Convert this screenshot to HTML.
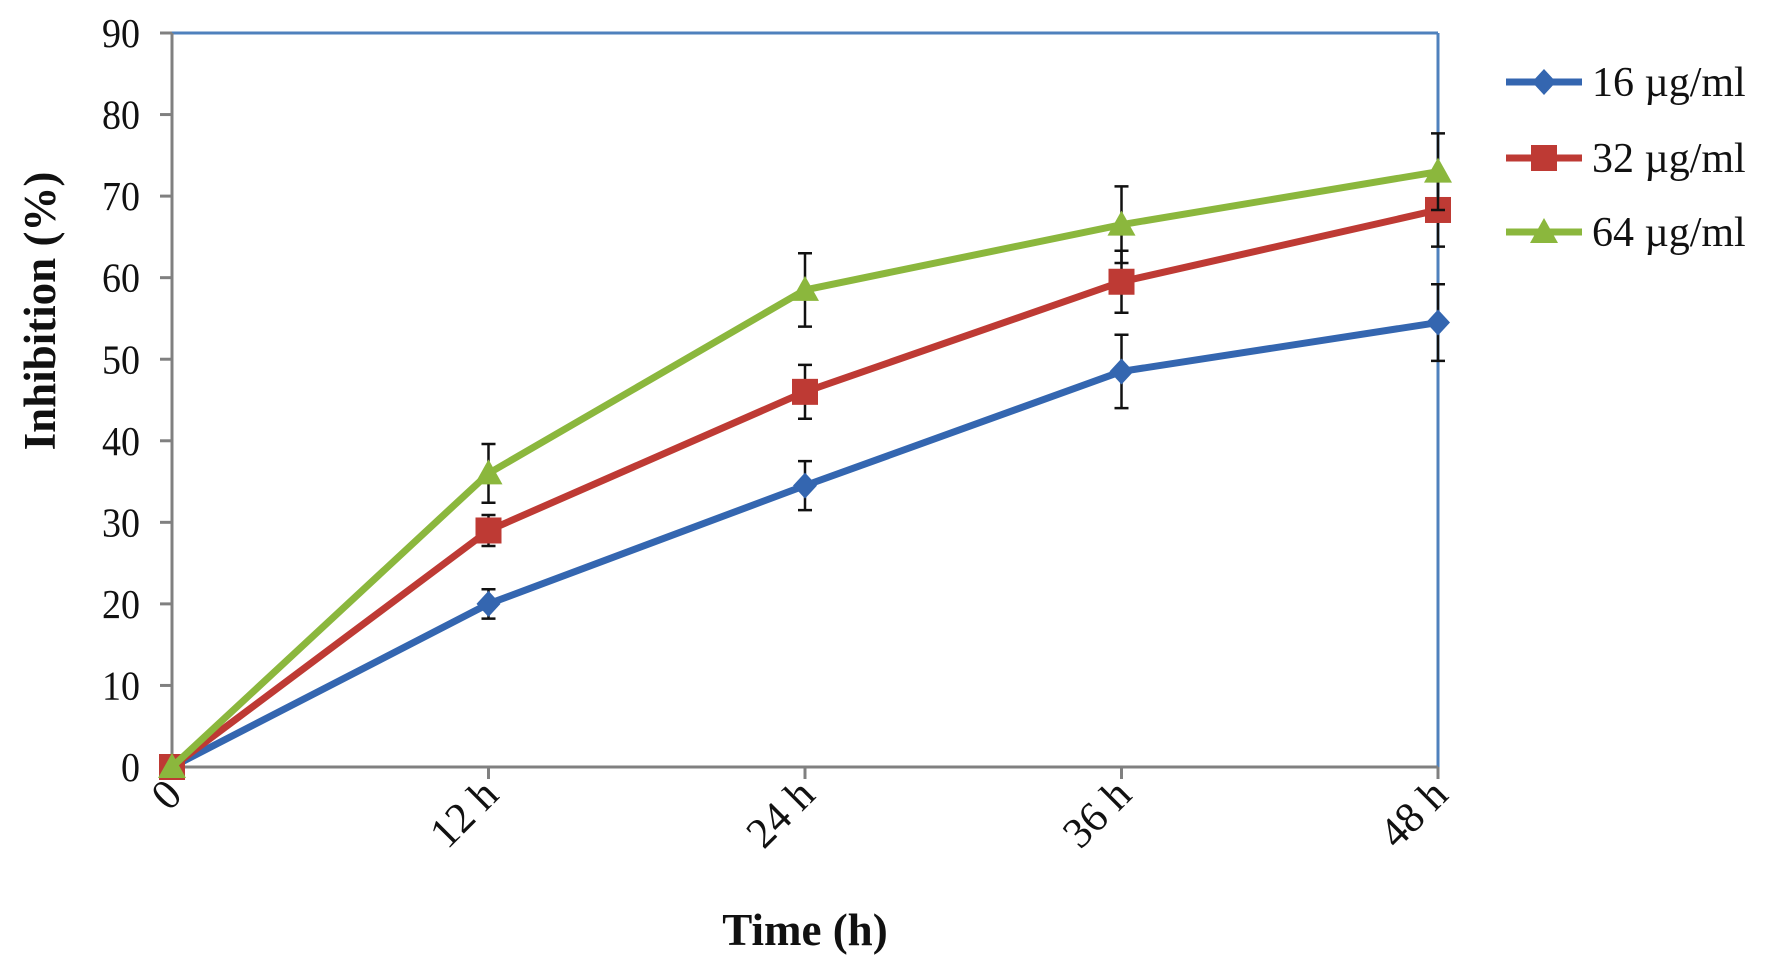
<!DOCTYPE html>
<html><head><meta charset="utf-8"><style>
body{margin:0;background:#fff;}
svg text{font-family:"Liberation Serif",serif;fill:#111;}
</style></head><body>
<svg id="chart" width="1772" height="974" xmlns="http://www.w3.org/2000/svg">
</svg>
<script>
const categories=["0","12 h","24 h","36 h","48 h"];
const yTicks=[0,10,20,30,40,50,60,70,80,90];
const s16=[0,20,34.5,48.5,54.5];
const e16=[0,1.8,3,4.5,4.7];
const s32=[0,29,46,59.5,68.3];
const e32=[0,1.9,3.3,3.8,4.5];
const s64=[0,36,58.5,66.5,73];
const e64=[0,3.6,4.5,4.7,4.7];
const seriesNames=["16 µg/ml","32 µg/ml","64 µg/ml"];
const L=172,R=1438,T=33,B=767;
const svg=document.getElementById('chart');
const NS="http://www.w3.org/2000/svg";
function x(i){return L+(R-L)*i/(categories.length-1);}
function y(v){return B-(B-T)*v/90;}
function mk(tag,at,parent){const e=document.createElementNS(NS,tag);for(const k in at)e.setAttribute(k,at[k]);(parent||svg).appendChild(e);return e;}
let e=mk('line',{x1:L,y1:T,x2:R,y2:T,stroke:'#4f81bd','stroke-width':3});

e=mk('line',{x1:R,y1:T,x2:R,y2:B,stroke:'#4f81bd','stroke-width':3});

e=mk('line',{x1:L,y1:T,x2:L,y2:B,stroke:'#808080','stroke-width':3});

e=mk('line',{x1:L,y1:B,x2:R,y2:B,stroke:'#808080','stroke-width':3});

yTicks.forEach(v=>{
 let t=mk('line',{x1:L-12,y1:y(v),x2:L,y2:y(v),stroke:'#808080','stroke-width':3});
 
 let l=mk('text',{x:L-32,y:y(v)+13,'text-anchor':'end','font-size':38,transform:`translate(0 ${y(v)}) scale(1 1.08) translate(0 ${-y(v)})`});l.textContent=v;
 
});
categories.forEach((c,i)=>{
 let t=mk('line',{x1:x(i),y1:B,x2:x(i),y2:B+12,stroke:'#808080','stroke-width':3});
 
 let l=mk('text',{x:x(i)+12,y:B+30,'text-anchor':'end','font-size':43,transform:`rotate(-45 ${x(i)+12} ${B+30})`});l.textContent=c;
 
});
e=mk('text',{x:805,y:945,'text-anchor':'middle','font-size':45,'font-weight':'bold'});e.textContent='Time (h)';

e=mk('text',{x:0,y:0,'text-anchor':'middle','font-size':45,'font-weight':'bold',transform:'translate(55 311) rotate(-90)'});e.textContent='Inhibition (%)';

const colors=["#3466b0","#be3a34","#8bb73d"];
const data=[s16,s32,s64],errs=[e16,e32,e64];
function marker(k,cx,cy,g){
 let m;
 if(k==0)m=mk('polygon',{points:`${cx},${cy-13} ${cx+12},${cy} ${cx},${cy+13} ${cx-12},${cy}`,fill:colors[k]},g);
 else if(k==1)m=mk('rect',{x:cx-13,y:cy-13,width:26,height:26,fill:colors[k]},g);
 else m=mk('polygon',{points:`${cx},${cy-14} ${cx+14},${cy+11} ${cx-14},${cy+11}`,fill:colors[k]},g);
 
}
data.forEach((d,k)=>{
 const g=mk('g',{});
 
 let p=mk('polyline',{points:d.map((v,i)=>x(i)+','+y(v)).join(' '),fill:'none',stroke:colors[k],'stroke-width':7},g);
 
 d.forEach((v,i)=>{
  if(errs[k][i]>0){
   const a=y(v+errs[k][i]),b=y(v-errs[k][i]);
   let eb=mk('path',{d:`M${x(i)},${a}V${b}M${x(i)-7},${a}H${x(i)+7}M${x(i)-7},${b}H${x(i)+7}`,stroke:'#111','stroke-width':2.5,fill:'none'},g);
   
  }
  marker(k,x(i),y(v),g);
 });
 const ly=[82,158,232][k];
 const lg=mk('g',{});
 
 mk('line',{x1:1506,y1:ly,x2:1582,y2:ly,stroke:colors[k],'stroke-width':7},lg);
 marker(k,1544,ly,lg);
 let t=mk('text',{x:1592,y:ly+14,'font-size':42},lg);t.textContent=seriesNames[k];
});
</script>
</body></html>
